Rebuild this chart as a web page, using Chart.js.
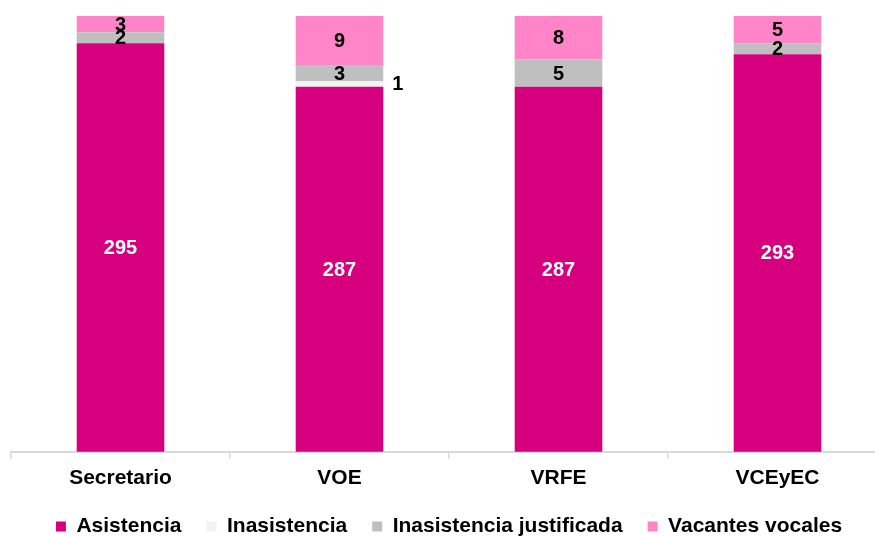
<!DOCTYPE html>
<html>
<head>
<meta charset="utf-8">
<script src="https://cdn.jsdelivr.net/npm/chart.js@4"></script>
<style>
  html, body { margin: 0; padding: 0; background: #fff; overflow: hidden; }
  #wrap { position: absolute; left: 0; top: 0; width: 887px; height: 547px; }
</style>
</head>
<body>
<div id="wrap"><canvas id="chart"></canvas></div>
<script>
const categories = ["Secretario", "VOE", "VRFE", "VCEyEC"]
const asistencia = [295, 287, 287, 293]
const inasistencia = [0, 1, 0, 0]
const inasistenciaJustificada = [2, 3, 5, 2]
const vacantesVocales = [3, 9, 8, 5]
const yMin = 220
const yMax = 300

const FONT = 'Arial, "Liberation Sans", sans-serif'

// etiquetas de valor sobre cada segmento
const valueLabels = {
  id: "valueLabels",
  afterDatasetsDraw(chart) {
    const ctx = chart.ctx
    const bottom = chart.chartArea.bottom
    ctx.save()
    ctx.font = "bold 20px " + FONT
    ctx.textBaseline = "middle"
    chart.data.datasets.forEach((ds, i) => {
      chart.getDatasetMeta(i).data.forEach((bar, j) => {
        const v = ds.data[j]
        if (!v) return
        const base = Math.min(bar.base, bottom)
        const y = (bar.y + base) / 2
        if (base - bar.y < 8) {
          // segmento muy delgado: etiqueta al lado
          ctx.textAlign = "left"
          ctx.fillStyle = "#000"
          ctx.fillText(v, bar.x + bar.width / 2 + 9, y)
        } else {
          ctx.textAlign = "center"
          ctx.fillStyle = i === 0 ? "#fff" : "#000"
          ctx.fillText(v, bar.x, y + 1)
        }
      })
    })
    ctx.restore()
  },
}

const common = { barPercentage: 0.4, categoryPercentage: 1.0, borderWidth: 0 }

new Chart(document.getElementById("chart").getContext("2d"), {
  type: "bar",
  data: {
    labels: categories,
    datasets: [
      { label: "Asistencia", data: asistencia, backgroundColor: "#d6007f", ...common },
      { label: "Inasistencia", data: inasistencia, backgroundColor: "#f2f2f2", ...common },
      { label: "Inasistencia justificada", data: inasistenciaJustificada, backgroundColor: "#bfbfbf", ...common },
      { label: "Vacantes vocales", data: vacantesVocales, backgroundColor: "#ff85c8", ...common },
    ],
  },
  options: {
    responsive: true,
    maintainAspectRatio: false,
    animation: false,
    layout: { padding: { left: 11, top: 16, right: 0, bottom: 0 } },
    plugins: {
      legend: {
        position: "bottom",
        labels: {
          color: "#000",
          font: { family: FONT, size: 21, weight: "bold" },
          boxWidth: 10,
          boxHeight: 10,
          padding: 25,
        },
      },
      tooltip: { enabled: false },
    },
    scales: {
      x: {
        stacked: true,
        grid: {
          offset: true,
          drawOnChartArea: false,
          color: "#d9d9d9",
          tickLength: 7,
          lineWidth: 1.5,
        },
        border: { color: "#d9d9d9", width: 2 },
        ticks: {
          color: "#000",
          font: { family: FONT, size: 21, weight: "bold" },
          padding: 7,
        },
        afterFit(scale) {
          scale.height -= 7
        },
      },
      y: {
        stacked: true,
        display: false,
        min: yMin,
        max: yMax,
      },
    },
  },
  plugins: [valueLabels],
})
</script>
</body>
</html>
